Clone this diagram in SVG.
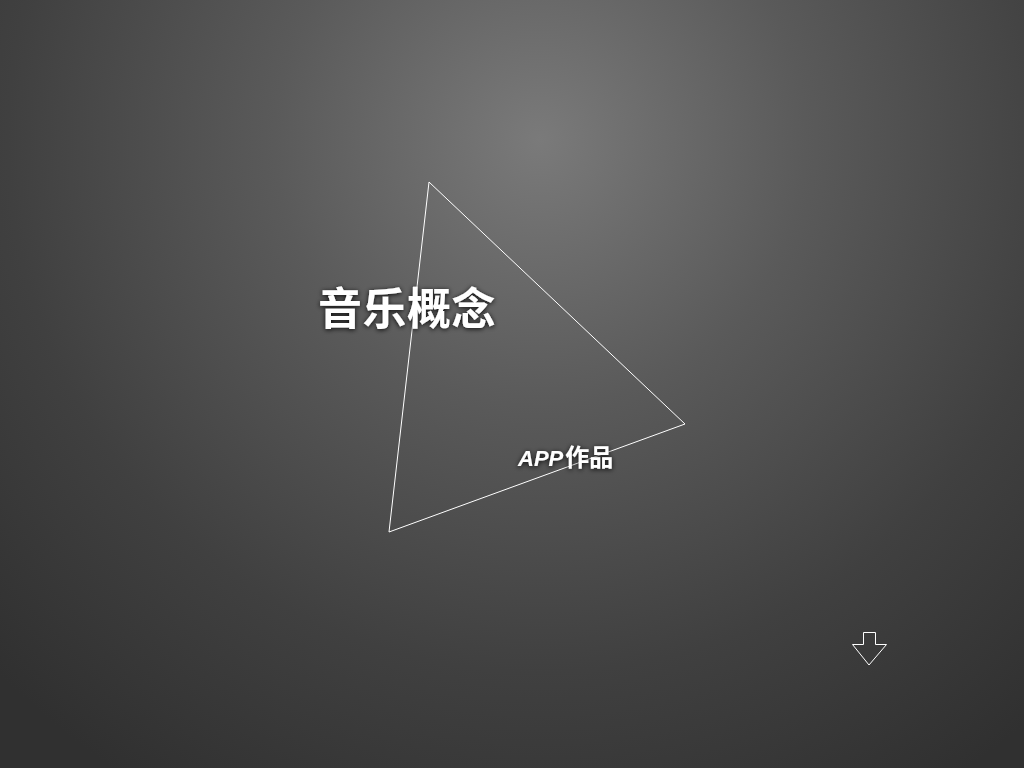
<svg xmlns="http://www.w3.org/2000/svg" width="1024" height="768" viewBox="0 0 1024 768">
<defs>
<radialGradient id="bg" cx="540" cy="140" r="760" gradientUnits="userSpaceOnUse">
<stop offset="0" stop-color="#7a7a7a"/>
<stop offset="0.35" stop-color="#5a5a5a"/>
<stop offset="0.7" stop-color="#404040"/>
<stop offset="1" stop-color="#303030"/>
</radialGradient>
<filter id="glow" x="-20%" y="-40%" width="140%" height="180%">
<feGaussianBlur in="SourceAlpha" stdDeviation="2.5"/>
<feOffset dx="0" dy="1" result="b"/>
<feFlood flood-color="#000" flood-opacity="0.9"/>
<feComposite in2="b" operator="in"/>
<feMerge><feMergeNode/><feMergeNode in="SourceGraphic"/></feMerge>
</filter>
</defs>
<style>
.t{fill:#fff;font-family:"Liberation Sans","Noto Sans CJK SC",sans-serif;font-weight:bold;filter:url(#glow)}
.ln{fill:none;stroke:#fff;stroke-width:1}
</style>
<rect width="1024" height="768" fill="url(#bg)"/>
<g id="connectors">
<polygon class="ln" points="429,182 685,424 389,532"/>
</g>
<g id="title"><text class="t" x="318" y="325" font-size="44" letter-spacing="0.5">音乐概念</text></g>
<g id="subtitle"><text class="t" x="518" y="466" font-size="22"><tspan font-style="italic">APP</tspan><tspan font-size="24" dx="2">作品</tspan></text></g>
<g id="arrow"><polygon class="ln" stroke-width="1.5" points="863.5,632.5 875.5,632.5 875.5,644.5 886.5,644.5 869,665 852.5,644.5 863.5,644.5"/></g>
</svg>
